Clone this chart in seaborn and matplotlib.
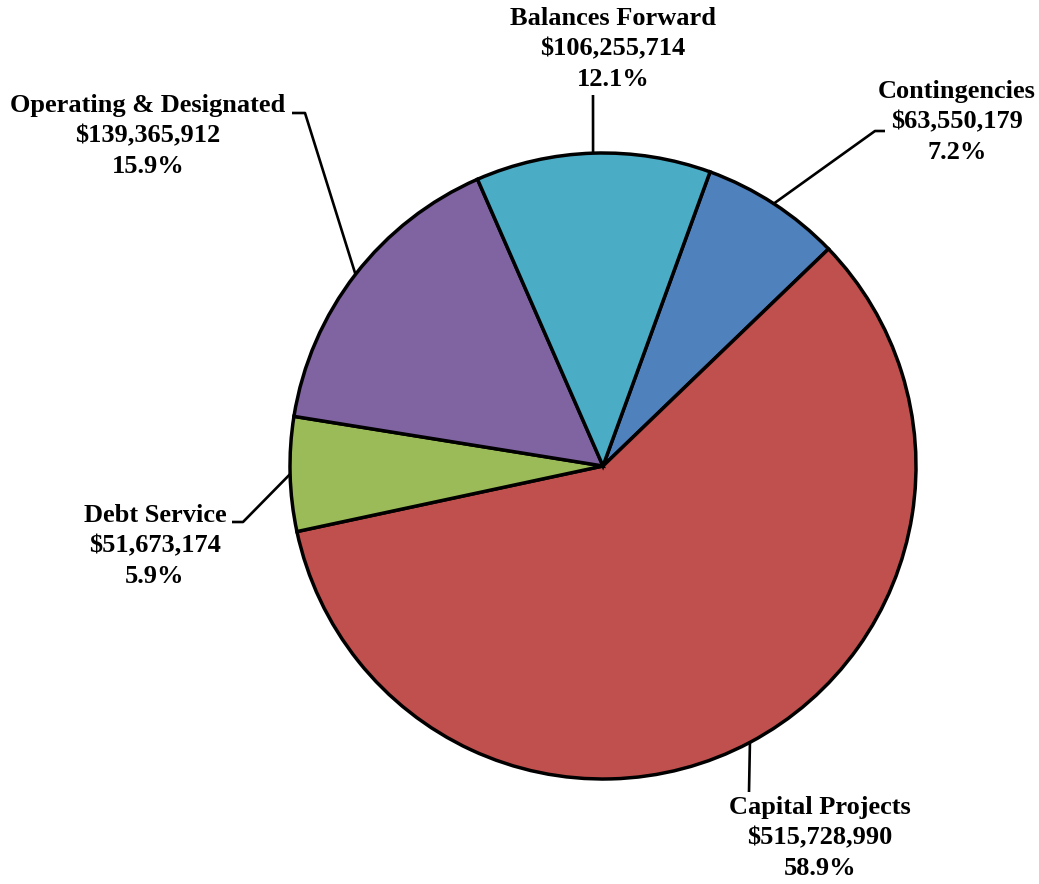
import numpy as np
import matplotlib
matplotlib.use("Agg")
import matplotlib.pyplot as plt
import seaborn as sns

categories = ["Contingencies", "Capital Projects", "Debt Service",
              "Operating & Designated", "Balances Forward"]
amounts = [63550179, 515728990, 51673174, 139365912, 106255714]
pct_labels = ["7.2%", "58.9%", "5.9%", "15.9%", "12.1%"]
colors = ["#4F81BD", "#C0504D", "#9BBB59", "#8064A2", "#4BACC6"]

sns.set_style("white")
plt.rcParams["font.family"] = ["Liberation Serif", "DejaVu Serif"]

W, H = 1039, 884
cx, cy, R = 603, 466, 313   # pie centre / radius in pixels


def px(x, y):
    return (x - cx) / R, (cy - y) / R


fig = plt.figure(figsize=(W / 100, H / 100), dpi=100)
ax = fig.add_axes([0, 0, 1, 1])
wedges, _ = ax.pie(amounts, colors=colors, startangle=70, counterclock=False,
                   radius=1, center=(0, 0),
                   wedgeprops=dict(edgecolor="black", linewidth=2.5))
ax.set_xlim(-cx / R, (W - cx) / R)
ax.set_ylim(-(H - cy) / R, cy / R)
ax.axis("off")

# label centres and leader paths (pixels), from label side toward the pie
label_pos = [(957, 122), (820, 838), (155, 546), (148, 136), (613, 49)]
leader_pts = [
    [(885, 131), (875, 131)],
    [(749, 792)],
    [(232, 522), (243, 522)],
    [(292, 113), (305, 113)],
    [(593, 95)],
]

for w, cat, amt, pct, pos, pts in zip(wedges, categories, amounts, pct_labels,
                                      label_pos, leader_pts):
    mid = np.deg2rad((w.theta1 + w.theta2) / 2)
    edge = (np.cos(mid), np.sin(mid))
    xs = [px(*p)[0] for p in pts] + [edge[0]]
    ys = [px(*p)[1] for p in pts] + [edge[1]]
    ax.plot(xs, ys, color="black", lw=1.9, solid_capstyle="butt", zorder=0)
    tx, ty = px(*pos)
    ax.text(tx, ty, f"{cat}\n${amt:,}\n{pct}", ha="center", va="center",
            color="black", fontsize=19, fontweight="bold", linespacing=1.4)

fig.savefig("out.png", dpi=100, facecolor="white")
